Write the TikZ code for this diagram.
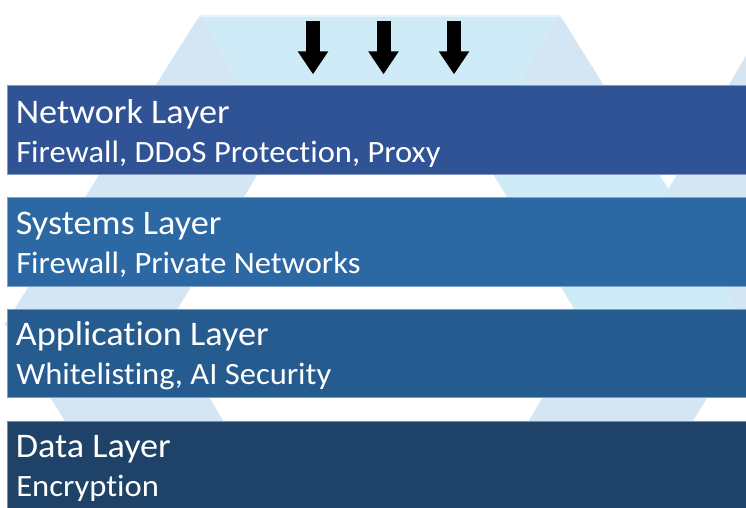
\documentclass[tikz,border=0pt]{standalone}
\usepackage{fontspec}
\newfontfamily\layerfont[Ligatures=NoCommon, FakeStretch=1.05]{Carlito}
\usepackage{tikz}
\usetikzlibrary{positioning}
\usetikzlibrary{arrows.meta}
\definecolor{netblue}{RGB}{47,83,148}
\definecolor{sysblue}{RGB}{44,104,164}
\definecolor{appblue}{RGB}{38,91,143}
\definecolor{datablue}{RGB}{31,67,104}
\definecolor{hexgrey}{RGB}{212,229,243}
\definecolor{hexcyan}{RGB}{207,235,248}

\begin{document}
\begin{tikzpicture} [x=1pt, y=-1pt,
                layer/.style = {draw=white!40!#1, fill=#1, line width=.8pt, minimum width=740pt, minimum height=88.5pt, inner sep=0pt},
                laytitle/.style = {anchor=base west, text=white, inner sep=0pt, font=\layerfont\fontsize{34.5}{40}\selectfont},
                laysub/.style = {anchor=base west, text=white, inner sep=0pt, font=\layerfont\fontsize{31}{36}\selectfont},
                bigarrow/.style = {line width=14pt, -{Triangle[width=29pt,length=23pt]}, shorten >=11pt}
            ]
            \useasboundingbox (0,0) rectangle (746,508);
            % faint hexagon behind the layers
            \begin{scope}
            \clip (0,0) rectangle (746,508);
            \fill[hexgrey, even odd rule] (200,15) -- (560,15) -- (752,324) -- (560,640) -- (200,640) -- (5,324) -- cycle
                (272,150) -- (479,150) -- (585,327) -- (478,505) -- (274,505) -- (167,327) -- cycle;
            \fill[hexcyan] (200,15) -- (560,15) -- (479,150) -- (272,150) -- cycle;
            \fill[hexcyan] (479,150) -- (644,150) -- (752,324) -- (585,327) -- cycle;
            \fill[hexgrey] (752,45) -- (668,190) -- (752,335) -- cycle;
            \draw[white, line width=5pt, opacity=.5] (190,15) -- (570,15);
            \end{scope}
            % layers
            \node (net) at (377,130) [layer=netblue] {};
            \node[layer=sysblue, below=22.5pt of net] (sys) {};
            \node[layer=appblue, below=22.5pt of sys] (app) {};
            \node[layer=datablue, below=22.5pt of app] (data) {};
            \node[laytitle] (netT) at ([xshift=9pt, yshift=-38pt] net.north west) {Network Layer};
            \node[laysub] (netS) at ([xshift=9.5pt, yshift=-77pt] net.north west) {Firewall, DDoS Protection, Proxy};
            \node[laytitle] (sysT) at ([xshift=9pt, yshift=-37pt] sys.north west) {Systems Layer};
            \node[laysub] (sysS) at ([xshift=9.5pt, yshift=-76pt] sys.north west) {Firewall, Private Networks};
            \node[laytitle] (appT) at ([xshift=9pt, yshift=-37pt] app.north west) {Application Layer};
            \node[laysub] (appS) at ([xshift=9.5pt, yshift=-76pt] app.north west) {Whitelisting, AI Security};
            \node[laytitle] (dataT) at ([xshift=9pt, yshift=-37pt] data.north west) {Data Layer};
            \node[laysub] (dataS) at ([xshift=9.5pt, yshift=-76pt] data.north west) {Encryption};
            % incoming traffic
            \foreach \x [count=\i] in {313,383.5,454} {
                \coordinate (in\i) at (\x,21);
                \draw [bigarrow] (in\i) -- (in\i |- net.north);
            }
        \end{tikzpicture}
\end{document}
